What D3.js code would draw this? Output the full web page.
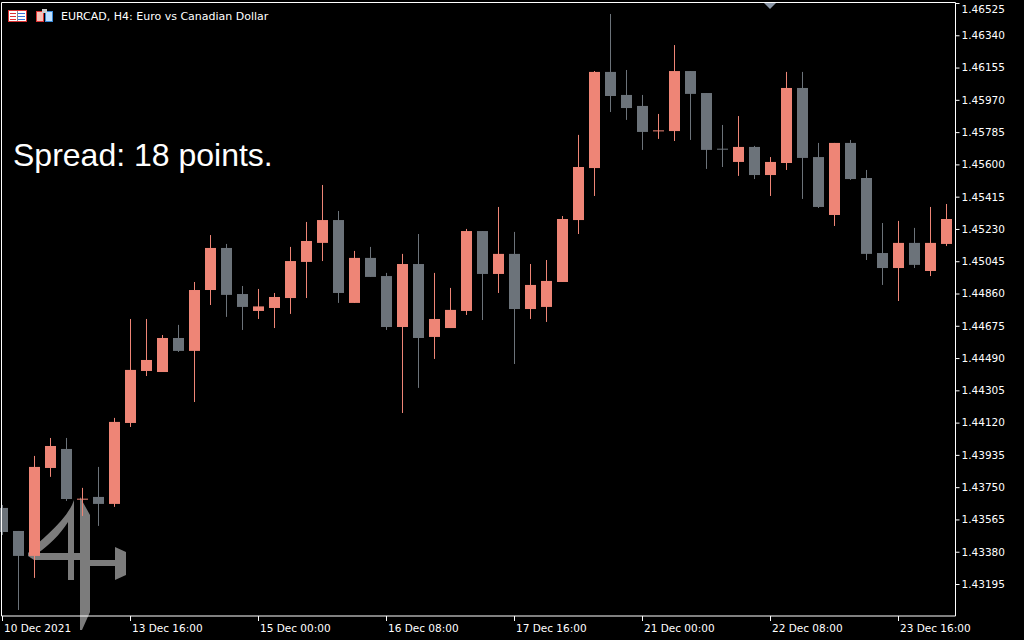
<!DOCTYPE html>
<html><head><meta charset="utf-8">
<script src="https://cdn.jsdelivr.net/npm/d3@7"></script>
<style>body{margin:0;background:#000;overflow:hidden}</style>
</head><body><svg id="c" width="1024" height="640"></svg>
<script>
const opens  =[1.43631,1.43499,1.43356,1.43860,1.43969,1.43682,1.43694,1.43654,1.44118,1.44416,1.44410,1.44605,1.44531,1.44880,1.45121,1.44857,1.44760,1.44777,1.44834,1.45041,1.45150,1.45281,1.44806,1.45064,1.44960,1.44668,1.45029,1.44611,1.44662,1.44760,1.45218,1.44972,1.45087,1.44771,1.44783,1.44926,1.45281,1.45579,1.46130,1.45998,1.45935,1.45791,1.45791,1.46135,1.46009,1.45690,1.45614,1.45700,1.45539,1.45608,1.46038,1.45642,1.45310,1.45723,1.45522,1.45092,1.45006,1.45150,1.44989,1.45144];
const closes =[1.43493,1.43356,1.43866,1.43986,1.43682,1.43684,1.43654,1.44124,1.44422,1.44479,1.44605,1.44531,1.44880,1.45121,1.44852,1.44783,1.44786,1.44840,1.45046,1.45161,1.45281,1.44863,1.45064,1.44955,1.44668,1.45029,1.44605,1.44714,1.44766,1.45218,1.44972,1.45087,1.44771,1.44909,1.44932,1.45287,1.45585,1.46130,1.45992,1.45923,1.45786,1.45795,1.46135,1.46004,1.45683,1.45688,1.45700,1.45539,1.45614,1.46038,1.45637,1.45356,1.45723,1.45516,1.45087,1.45006,1.45150,1.45024,1.45150,1.45287];
const highs  =[1.43648,1.43499,1.43929,1.44032,1.44032,1.43746,1.43866,1.44147,1.44714,1.44714,1.44622,1.44680,1.44926,1.45195,1.45144,1.44903,1.44886,1.44863,1.45127,1.45270,1.45482,1.45333,1.45104,1.45127,1.44978,1.45087,1.45201,1.44978,1.44892,1.45230,1.45218,1.45356,1.45213,1.45029,1.45052,1.45304,1.45769,1.46135,1.46462,1.46141,1.45998,1.45889,1.46284,1.46135,1.46009,1.45826,1.45877,1.45706,1.45642,1.46130,1.46130,1.45723,1.45723,1.45740,1.45568,1.45264,1.45276,1.45236,1.45356,1.45373];
const lows   =[1.43476,1.43046,1.43230,1.43809,1.43671,1.43585,1.43528,1.43637,1.44095,1.44387,1.44410,1.44525,1.44238,1.44794,1.44726,1.44651,1.44714,1.44662,1.44743,1.44834,1.45046,1.44806,1.44806,1.44955,1.44651,1.44175,1.44319,1.44485,1.44662,1.44737,1.44708,1.44863,1.44456,1.44714,1.44697,1.44926,1.45201,1.45419,1.45900,1.45855,1.45683,1.45746,1.45734,1.45740,1.45574,1.45585,1.45534,1.45516,1.45419,1.45568,1.45402,1.45350,1.45247,1.45511,1.45052,1.44909,1.44817,1.45006,1.44960,1.45132];
const priceTicks=[1.46525,1.46340,1.46155,1.45970,1.45785,1.45600,1.45415,1.45230,1.45045,1.44860,1.44675,1.44490,1.44305,1.44120,1.43935,1.43750,1.43565,1.43380,1.43195];
const timeTickIdx=[0,8,16,24,32,40,48,56];
const timeTickLabels=["10 Dec 2021","13 Dec 16:00","15 Dec 00:00","16 Dec 08:00","17 Dec 16:00","21 Dec 00:00","22 Dec 08:00","23 Dec 16:00"];
const title="EURCAD, H4:  Euro vs Canadian Dollar";
const spreadText="Spread: 18 points.";

const UP="#EE8576", DN="#6C737A";
const svg=d3.select("#c");
const x=d3.scaleLinear().domain([0,59]).range([2,946]);
const y=d3.scaleLinear().domain([1.43195,1.46525]).range([584,3]);
svg.append("rect").attr("width",1024).attr("height",640).attr("fill","#000");

// watermark logo
const g0=svg.append("g").attr("fill","#8a8a8a").attr("opacity",0.9);
g0.append("path").attr("d","M28,553 C40,540 62,525 72,505 L74,500 L74,553 L90,553 L90,560 L74,560 L74,580 L68,580 L68,560 L34,560 L28,556 Z M38,553 L68,553 L68,522 C60,535 48,546 38,553 Z").attr("fill-rule","evenodd");
g0.append("path").attr("d","M80,497 L90,515 L90,560 L115,560 L115,547 L126,552 L126,575 L115,580 L115,566 L90,566 L90,612 L82,630 L80,630 Z");

const g=svg.append("g");
const cs=d3.range(opens.length).map(i=>({i,o:opens[i],c:closes[i],h:highs[i],l:lows[i]}));
g.selectAll("line.w").data(cs).join("line")
 .attr("x1",d=>Math.round(x(d.i))+0.5).attr("x2",d=>Math.round(x(d.i))+0.5)
 .attr("y1",d=>y(d.h)).attr("y2",d=>y(d.l))
 .attr("stroke",d=>d.c>=d.o?UP:DN).attr("stroke-width",1);
g.selectAll("rect.b").data(cs).join("rect")
 .attr("x",d=>Math.round(x(d.i))-5).attr("width",11)
 .attr("y",d=>y(Math.max(d.o,d.c))).attr("height",d=>Math.max(1,y(Math.min(d.o,d.c))-y(Math.max(d.o,d.c))))
 .attr("fill",d=>d.c>=d.o?UP:DN);

// frame
svg.append("path").attr("d","M1.5,616 L1.5,2.5 L955.5,2.5 L955.5,616 Z").attr("fill","none").attr("stroke","#fff");
svg.append("path").attr("d","M764,3 L776,3 L770,9 Z").attr("fill","#8a96a6");

const ya=svg.append("g").attr("transform","translate(955.5,0)")
 .call(d3.axisRight(y).tickValues(priceTicks).tickSize(4).tickFormat(d3.format(".5f")));
ya.select(".domain").remove();
ya.selectAll("line").attr("stroke","#fff");
ya.selectAll("text").attr("fill","#fff").attr("font-family","DejaVu Sans").attr("font-size",10.5).attr("x",6);
ya.selectAll("text").filter(d=>d===priceTicks[0]).attr("dy","0.9em");

const xa=svg.append("g").attr("transform","translate(0,616)");
xa.selectAll("line").data(timeTickIdx).join("line").attr("x1",d=>Math.round(x(d))+0.5).attr("x2",d=>Math.round(x(d))+0.5).attr("y1",0).attr("y2",5).attr("stroke","#fff");
xa.selectAll("text").data(timeTickIdx).join("text").attr("x",(d,k)=>k==0?4:Math.round(x(d))+2).attr("y",16)
 .text((d,k)=>timeTickLabels[k]).attr("fill","#fff").attr("font-family","DejaVu Sans").attr("font-size",10.5);

// icons + title
const ic=svg.append("g");
ic.append("rect").attr("x",8.5).attr("y",10.5).attr("width",18).attr("height",11).attr("fill","#fff").attr("stroke","#d33");
[13.5,16.5,19.5].forEach(yy=>{ic.append("line").attr("x1",10).attr("x2",16).attr("y1",yy).attr("y2",yy).attr("stroke","#d33");ic.append("line").attr("x1",18).attr("x2",25).attr("y1",yy).attr("y2",yy).attr("stroke","#3a6fd8");});
ic.append("line").attr("x1",17.5).attr("x2",17.5).attr("y1",11).attr("y2",21).attr("stroke","#888");
ic.append("rect").attr("x",36.5).attr("y",11.5).attr("width",7).attr("height",10).attr("fill","#f6c2b8").attr("stroke","#d33");
ic.append("rect").attr("x",45.5).attr("y",11.5).attr("width",7).attr("height",10).attr("fill","#bfe0ff").attr("stroke","#3a8ad8");
ic.append("rect").attr("x",42).attr("y",9).attr("width",5).attr("height",4).attr("fill","#ccc");
svg.append("text").attr("x",61).attr("y",20).text(title).attr("fill","#fff").attr("font-family","DejaVu Sans").attr("font-size",11);
svg.append("text").attr("x",13).attr("y",166).text(spreadText).attr("fill","#fff").attr("font-family","Liberation Sans, Arial").attr("font-size",32);
</script></body></html>
